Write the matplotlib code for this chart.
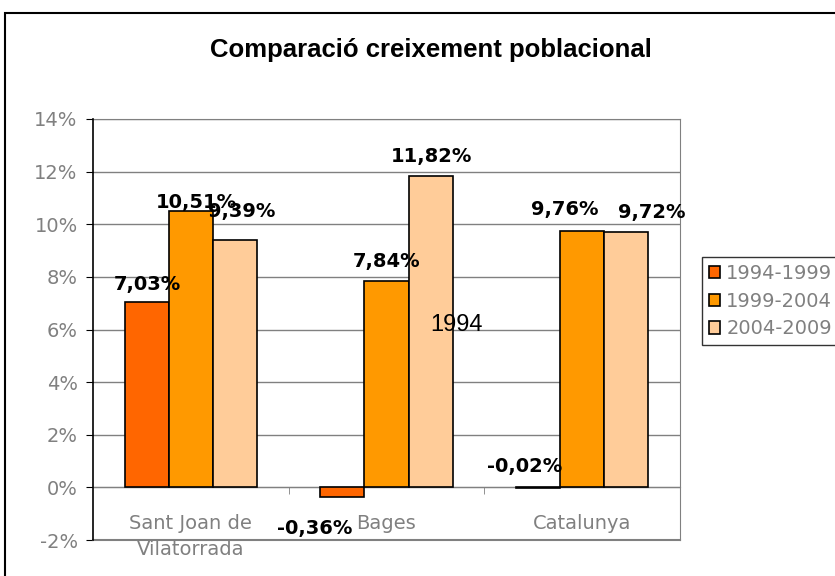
import numpy as np
import matplotlib
matplotlib.use('Agg')
import matplotlib.pyplot as plt
from matplotlib.patches import Rectangle

# Data
categories = ['Sant Joan de\nVilatorrada', 'Bages', 'Catalunya']
periods = ['1994-1999', '1999-2004', '2004-2009']
growth_9499 = [7.03, -0.36, -0.02]
growth_9904 = [10.51, 7.84, 9.76]
growth_0409 = [9.39, 11.82, 9.72]
yticks = [-2, 0, 2, 4, 6, 8, 10, 12, 14]

# Style
colors = ['#FF6600', '#FF9900', '#FFCC99']
grey = '#808080'
# manual label nudges (pixels) as in the original sheet
label_nudge = [
    [(1, 18), (6, 8), (7, 29)],
    [(-28, -32), (0, 20), (1, 20)],
    [(-14, 21), (-17, 21), (26, 19)],
]

fig = plt.figure(figsize=(8.35, 5.76), dpi=100)
ax = fig.add_axes([93/835, 1 - 540/576, (680 - 93)/835, (540 - 119)/576])

# outer chart frame
fig.patches.append(Rectangle((5/835, -0.1), 1.2, 1 - 13/576 + 0.1,
                             transform=fig.transFigure, fill=False,
                             edgecolor='black', lw=1.5))

series = [growth_9499, growth_9904, growth_0409]
x = np.arange(len(categories))
w = 0.225
for i, vals in enumerate(series):
    xs = x + (i - 1) * w
    ax.bar(xs, vals, w, color=colors[i], edgecolor='black', lw=1.2,
           label=periods[i], zorder=3)
    for j, v in enumerate(vals):
        dx, dy = label_nudge[j][i]
        ax.annotate(f'{v:.2f}%'.replace('.', ','), (xs[j], v),
                    xytext=(dx, dy), textcoords='offset pixels',
                    ha='center', va='center', fontsize=14,
                    fontweight='bold', color='black', zorder=5)

ax.set_xlim(-0.5, 2.5)
ax.set_ylim(-2, 14)
ax.set_yticks(yticks)
ax.set_yticklabels([f'{t}%' for t in yticks], fontsize=14, color=grey)
ax.yaxis.grid(True, color=grey, lw=1, zorder=0)
ax.set_axisbelow(True)

ax.spines['left'].set_color('black')
ax.spines['left'].set_linewidth(1.2)
ax.spines['left'].set_zorder(4)
for s in ['top', 'right']:
    ax.spines[s].set_color(grey)
ax.spines['bottom'].set_position(('data', 0))
ax.spines['bottom'].set_color(grey)
ax.axhline(-2, color=grey, lw=1.5, clip_on=False)

ax.set_xticks(x)
ax.set_xticklabels(categories, fontsize=14, color=grey, linespacing=1.45)
ax.set_xticks([0.5, 1.5, 2.5], minor=True)
ax.tick_params(axis='x', which='major', length=0, pad=19)
ax.tick_params(axis='x', which='minor', length=5, direction='out', color=grey)
ax.tick_params(axis='y', length=5, direction='out', color='black', pad=6)

fig.text(431/835, 1 - 50/576, 'Comparació creixement poblacional',
         ha='center', va='center', fontsize=18.5, fontweight='bold',
         family='Liberation Sans')
fig.text(457/835, 1 - 325/576, '1994', ha='center', va='center',
         fontsize=17, family='Liberation Sans')

leg = fig.legend(loc='upper left', bbox_to_anchor=(702/835, 1 - 257/576),
                 frameon=True, fancybox=False, edgecolor='black',
                 fontsize=14, handlelength=0.6, handleheight=0.6,
                 handletextpad=0.3, labelspacing=0.45, borderpad=0.35,
                 borderaxespad=0)
leg.get_frame().set_linewidth(1)
for t in leg.get_texts():
    t.set_color(grey)

fig.savefig('out.png', dpi=100)
